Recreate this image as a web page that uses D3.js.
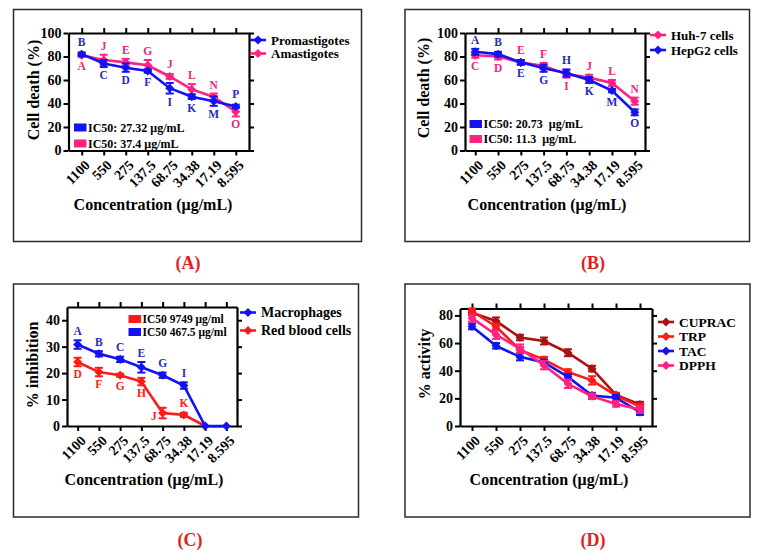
<!DOCTYPE html>
<html><head><meta charset="utf-8">
<script src="https://cdn.jsdelivr.net/npm/d3@7"></script>
<style>
body{margin:0;background:#fff;}
svg text{font-family:"Liberation Serif","Times New Roman",serif;font-weight:bold;}
</style></head>
<body><svg id="c" width="763" height="559"></svg>
<script>
// ---------- data ----------
const concentrations = ["1100","550","275","137.5","68.75","34.38","17.19","8.595"];

// Panel A
const promastigotes = [82,74,70.5,67.7,53,45.8,42,37.5];
const promastigotesErr = [1.5,3,3.5,1.5,4.5,2,4,1.5];
const promastigotesLetters = ["B","C","D","F","I","K","M","P"];
const promastigotesPos = ["a","b","b","b","b","b","b","a"];
const amastigotes = [81,77,75,72.5,63,52,45.5,33];
const amastigotesErr = [1.5,4.5,3,4.5,2,4.5,3,4];
const amastigotesLetters = ["A","J","E","G","J","L","N","O"];
const amastigotesPos = ["b","a","a","a","a","a","a","b"];
const ic50A = ["IC50: 27.32 μg/mL","IC50: 37.4 μg/mL"];

// Panel B
const huh7 = [81,80,75,72,65,62,57.5,42];
const huh7Err = [2,2.5,2,2.5,3,2.5,2.5,3];
const huh7Letters = ["C","D","E","F","I","J","L","N"];
const huh7Pos = ["b","b","a","a","b","a","a","a"];
const hepg2 = [84,82,75,70,66,60,51,32.5];
const hepg2Err = [2.5,2,2,3,3,2.5,1.5,2.5];
const hepg2Letters = ["A","B","E","G","H","K","M","O"];
const hepg2Pos = ["a","a","b","b","a","b","b","b"];
const ic50B = ["IC50: 20.73  μg/mL","IC50: 11.3  μg/mL"];

// Panel C
const macrophages = [30.8,27.3,25.2,22.2,19.2,15.3,0,0];
const macrophagesErr = [1.6,1,1,2,1,1.2,0,0];
const macrophagesLetters = ["A","B","C","E","G","I","",""];
const macrophagesPos = ["a","a","a","a","a","a","a","a"];
const redBloodCells = [24.2,20.4,19.2,16.8,4.9,4.2,0,null];
const redBloodCellsErr = [1.6,1.6,0.6,1.4,2,0.8,0,0];
const redBloodCellsLetters = ["D","F","G","H","J","K","",""];
const redBloodCellsPos = ["b","b","b","b","l","a","a","a"];
const ic50C = ["IC50 9749 μg/ml","IC50 467.5 μg/ml"];

// Panel D
const cuprac = [82,76,64,61.5,53,41.5,22.5,15.5];
const cupracErr = [2,2.5,2,2.5,2.5,2,1.5,2];
const trp = [83,72,55,48,39,33,22,14];
const trpErr = [2,2,2,2,2,3,1.5,2];
const tac = [72,58,50,46,35.5,22,20.5,10];
const tacErr = [2,2,2.5,2,2,2,2,2];
const dpph = [78,66,56,44,30.5,21.5,16,12];
const dpphErr = [2.5,3,3,3,3,2,2,2.5];

// ---------- colours ----------
const BLUE="#1212f2", PINK="#ff2282", RED="#ff1a1a", DARKRED="#a81212";

const svg = d3.select("#c");
svg.append("rect").attr("width",763).attr("height",559).attr("fill","#fff");

function mk(values, err, color, letters, pos, letterColor){
  return {values, err, color, letters, pos, letterColor: letterColor||color};
}

const panels = [
 { box:[13.5,9.5,361.5,241.5], l:68.5, r:249, t:33, b:150.5, pad:0.6, yMax:100, ticks:[0,20,40,60,80,100],
   yTitle:"Cell death (%)", yTitleX:39, yTitleY:90, xTitleX:153, xTitleY:210,
   label:"(A)", labelX:188, labelY:269,
   series:[ mk(amastigotes,amastigotesErr,PINK,amastigotesLetters,amastigotesPos,"#e8287a"),
            mk(promastigotes,promastigotesErr,BLUE,promastigotesLetters,promastigotesPos,"#2a2ab8") ],
   legend:{x:250,y:40,dy:13.5,size:13,items:[["Promastigotes",BLUE],["Amastigotes",PINK]]},
   ic50:{x:74,y:123.5,dy:16,size:12,items:[[ic50A[0],BLUE],[ic50A[1],PINK]]} },
 { box:[405,9.5,749.5,241.5], l:465, r:645, t:33, b:150.5, pad:0.45, yMax:100, ticks:[0,20,40,60,80,100],
   yTitle:"Cell death (%)", yTitleX:429, yTitleY:88, xTitleX:547, xTitleY:210,
   label:"(B)", labelX:593, labelY:269,
   series:[ mk(huh7,huh7Err,PINK,huh7Letters,huh7Pos,"#f0287e"),
            mk(hepg2,hepg2Err,BLUE,hepg2Letters,hepg2Pos,"#2a2ab8") ],
   legend:{x:650,y:35,dy:15,size:13,items:[["Huh-7 cells",PINK],["HepG2 cells",BLUE]]},
   ic50:{x:469.5,y:120,dy:15,size:12,items:[[ic50B[0],BLUE],[ic50B[1],PINK]]} },
 { box:[13.5,284,358.5,517], l:67, r:237, t:307, b:426, pad:0.5, yMax:45, ticks:[0,10,20,30,40],
   yTitle:"% inhibition", yTitleX:38, yTitleY:365, xTitleX:144, xTitleY:485,
   label:"(C)", labelX:190, labelY:546,
   series:[ mk(redBloodCells,redBloodCellsErr,RED,redBloodCellsLetters,redBloodCellsPos,"#ff2020"),
            mk(macrophages,macrophagesErr,BLUE,macrophagesLetters,macrophagesPos,"#2a2ab8") ],
   legend:{x:240,y:312.5,dy:18,size:14,items:[["Macrophages",BLUE],["Red blood cells",RED]]},
   ic50:{x:128.5,y:315,dy:13,size:11.5,items:[[ic50C[0],RED],[ic50C[1],BLUE]]} },
 { box:[405,284,750,517], l:460, r:652, t:308.5, b:426, pad:0.5, yMax:85, ticks:[0,20,40,60,80],
   yTitle:"% activity", yTitleX:430, yTitleY:364, xTitleX:549, xTitleY:485,
   label:"(D)", labelX:593, labelY:546,
   series:[ mk(cuprac,cupracErr,DARKRED), mk(trp,trpErr,RED), mk(tac,tacErr,BLUE), mk(dpph,dpphErr,PINK) ],
   legend:{x:658,y:322,dy:14.5,size:13.5,items:[["CUPRAC",DARKRED],["TRP",RED],["TAC",BLUE],["DPPH",PINK]]},
   ic50:null }
];

const diamond = d3.symbol().type(d3.symbolDiamond2).size(52);

function styleAxis(sel){
  sel.select(".domain").attr("stroke","#000").attr("stroke-width",2.2);
  sel.selectAll(".tick line").attr("stroke","#000").attr("stroke-width",2);
  sel.selectAll(".tick text").attr("fill","#000").style("font-size","14px");
}

panels.forEach(p=>{
  const g = svg.append("g");
  g.append("rect").attr("x",p.box[0]).attr("y",p.box[1]).attr("width",p.box[2]-p.box[0]).attr("height",p.box[3]-p.box[1])
    .attr("fill","none").attr("stroke","#2a2a2a").attr("stroke-width",1.5);
  const x = d3.scalePoint().domain(concentrations).range([p.l,p.r]).padding(p.pad);
  const y = d3.scaleLinear().domain([0,p.yMax]).range([p.b,p.t]);

  g.append("g").attr("transform",`translate(${p.l},0)`)
    .call(d3.axisLeft(y).tickValues(p.ticks).tickSize(5).tickSizeOuter(0).tickPadding(2)).call(styleAxis);
  g.append("g").attr("transform",`translate(${p.r},0)`)
    .call(d3.axisRight(y).tickValues(p.ticks).tickSize(5).tickSizeOuter(0).tickFormat("")).call(styleAxis);
  g.append("g").attr("transform",`translate(0,${p.t})`)
    .call(d3.axisTop(x).tickSize(5).tickSizeOuter(0).tickFormat("")).call(styleAxis);
  const bx = g.append("g").attr("transform",`translate(0,${p.b})`)
    .call(d3.axisBottom(x).tickSize(5).tickSizeOuter(0)).call(styleAxis);
  bx.selectAll(".tick text").attr("x",0).attr("y",0).attr("dy","0.35em").attr("text-anchor","end")
    .attr("transform","translate(5,12) rotate(-45)");

  // titles
  g.append("text").attr("transform",`translate(${p.yTitleX},${p.yTitleY}) rotate(-90)`).attr("text-anchor","middle")
    .style("font-size","16px").text(p.yTitle);
  g.append("text").attr("x",p.xTitleX).attr("y",p.xTitleY).attr("text-anchor","middle").style("font-size","16px")
    .text("Concentration (μg/mL)");
  g.append("text").attr("x",p.labelX).attr("y",p.labelY).attr("text-anchor","middle").style("font-size","18px")
    .attr("fill","#e41e1e").text(p.label);

  // series
  p.series.forEach(s=>{
    const pts = concentrations.map((c,i)=>({c, v:s.values[i], e:s.err[i], L:s.letters?s.letters[i]:"", P:s.pos?s.pos[i]:"a"}))
      .filter(d=>d.v!=null);
    const line = d3.line().x(d=>x(d.c)).y(d=>y(d.v));
    g.append("path").attr("d",line(pts)).attr("fill","none").attr("stroke",s.color).attr("stroke-width",2.6);
    pts.forEach(d=>{
      if(d.e>0){
        const cx=x(d.c), y1=y(d.v+d.e), y2=y(Math.max(0,d.v-d.e));
        g.append("line").attr("x1",cx).attr("x2",cx).attr("y1",y1).attr("y2",y2).attr("stroke",s.color).attr("stroke-width",2);
        g.append("line").attr("x1",cx-4).attr("x2",cx+4).attr("y1",y1).attr("y2",y1).attr("stroke",s.color).attr("stroke-width",2);
        g.append("line").attr("x1",cx-4).attr("x2",cx+4).attr("y1",y2).attr("y2",y2).attr("stroke",s.color).attr("stroke-width",2);
      }
      g.append("path").attr("d",diamond()).attr("transform",`translate(${x(d.c)},${y(d.v)})`).attr("fill",s.color);
    });
    s.pts = pts;
  });
  p.series.forEach(s=>{
    s.pts.forEach(d=>{
      if(!d.L) return;
      const ep = Math.max(y(0)-y(d.e),3);
      let tx=x(d.c), ty, anchor="middle";
      if(d.P==="a") ty = y(d.v)-ep-5;
      else if(d.P==="b") ty = y(d.v)+ep+12;
      else { tx = x(d.c)-6; ty = y(d.v)+7; anchor="end"; }
      g.append("text").attr("x",tx).attr("y",ty).attr("text-anchor",anchor).attr("fill",s.letterColor)
        .style("font-size","11.5px").text(d.L);
    });
  });

  // legend
  const lg = p.legend;
  lg.items.forEach((it,i)=>{
    const yy = lg.y + i*lg.dy;
    g.append("line").attr("x1",lg.x).attr("x2",lg.x+16).attr("y1",yy).attr("y2",yy).attr("stroke",it[1]).attr("stroke-width",2.6);
    g.append("path").attr("d",diamond()).attr("transform",`translate(${lg.x+8},${yy})`).attr("fill",it[1]);
    g.append("text").attr("x",lg.x+21).attr("y",yy+4.5).style("font-size",lg.size+"px").attr("fill","#000").text(it[0]);
  });
  if(p.ic50){
    const ic = p.ic50;
    ic.items.forEach((it,i)=>{
      const yy = ic.y + i*ic.dy;
      g.append("rect").attr("x",ic.x).attr("y",yy).attr("width",12.5).attr("height",8).attr("fill",it[1]);
      g.append("text").attr("x",ic.x+14).attr("y",yy+8).style("font-size",ic.size+"px").style("white-space","pre")
        .attr("fill","#000").text(it[0]);
    });
  }
});
</script></body></html>
